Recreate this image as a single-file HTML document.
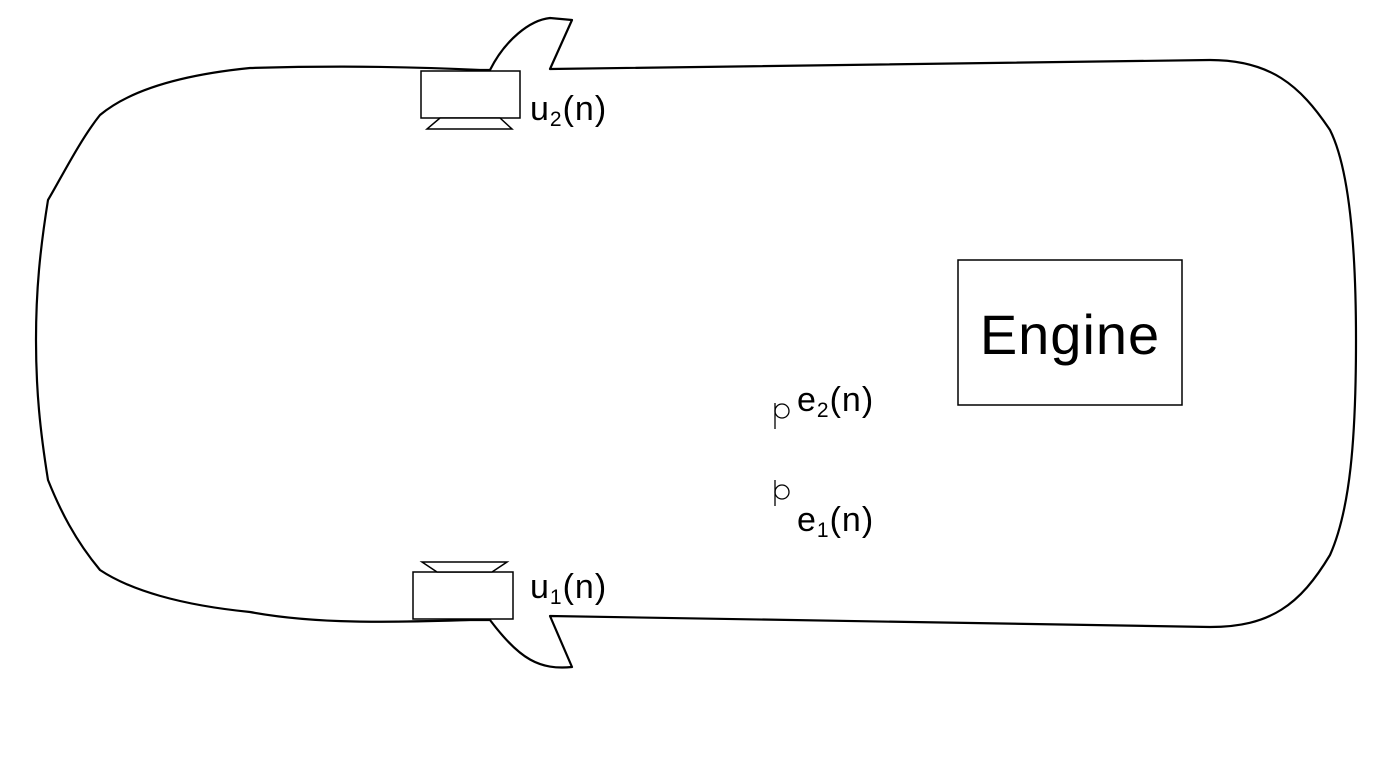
<!DOCTYPE html>
<html><head><style>
html,body{margin:0;padding:0;background:#fff;width:1375px;height:760px;overflow:hidden}
svg{display:block}
text{font-family:"Liberation Sans",sans-serif;fill:#000}
</style></head><body>
<svg width="1375" height="760" viewBox="0 0 1375 760">
<g fill="none" stroke="#000" stroke-width="2.2" stroke-linejoin="round">
<path d="M550,69 L1210,60 C1270,60 1300,85 1330,130 C1350,170 1356,250 1356,340 C1356,440 1350,510 1330,555 C1300,605 1270,627 1210,627 L550,616 L572,667 C540,670 520,660 490,620 L470,620 C400,622 320,625 250,612 C180,605 130,590 100,570 C75,540 60,510 48,480 C40,430 36,390 36,340 C36,290 40,250 48,200 C60,180 80,140 100,115 C130,90 180,75 250,68 C320,66 400,66 480,70 L490,70 C505,40 530,20 550,18 L572,20 Z"/>
</g>
<g fill="#fff" stroke="#000" stroke-width="1.5">
<rect x="421" y="71" width="99" height="47"/>
<path d="M440,118 L500,118 L512,129 L427,129 Z"/>
<rect x="413" y="572" width="100" height="47"/>
<path d="M437,572 L492,572 L507,562 L422,562 Z"/>
<rect x="958" y="260" width="224" height="145"/>
</g>
<g fill="none" stroke="#000" stroke-width="1.3">
<line x1="775" y1="403" x2="775" y2="429"/>
<circle cx="782" cy="411" r="7"/>
<line x1="775" y1="480" x2="775" y2="506"/>
<circle cx="782" cy="492" r="7"/>
</g>
<g font-size="34" letter-spacing="1">
<text x="530" y="120">u<tspan font-size="21" dy="6">2</tspan><tspan dy="-6">(n)</tspan></text>
<text x="530" y="598">u<tspan font-size="21" dy="6">1</tspan><tspan dy="-6">(n)</tspan></text>
<text x="797" y="411">e<tspan font-size="21" dy="6">2</tspan><tspan dy="-6">(n)</tspan></text>
<text x="797" y="531">e<tspan font-size="21" dy="6">1</tspan><tspan dy="-6">(n)</tspan></text>
</g>
<text x="1070" y="354" font-size="56" text-anchor="middle" letter-spacing="1">Engine</text>
</svg>
</body></html>
